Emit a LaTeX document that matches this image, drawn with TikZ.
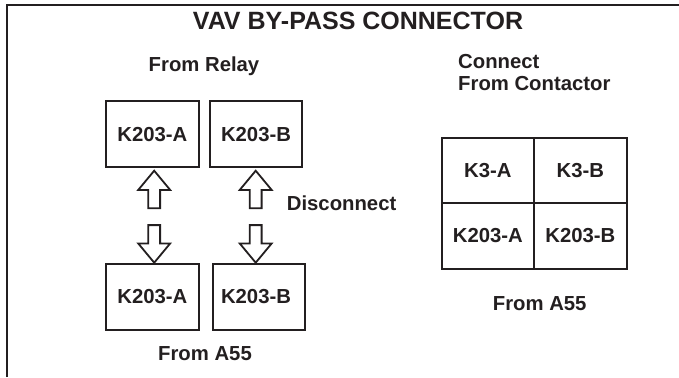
\documentclass[tikz,border=0pt]{standalone}
\usepackage{fontspec}
\setmainfont{Liberation Sans}
\definecolor{ink}{RGB}{35,31,32}
\newcommand\lblfont{\fontsize{20.3}{22.5}\selectfont\bfseries}
\newcommand\titlefont{\fontsize{25}{28}\selectfont\bfseries}
\tikzset{
  box/.style={draw=ink, line width=2pt, minimum width=92.5pt, minimum height=65.5pt,
    inner sep=0pt, font=\lblfont, text=ink},
  cell/.style={box, minimum width=92.5pt, minimum height=65.5pt},
  lbl/.style={font=\lblfont, text=ink, inner sep=0pt},
  blockarrow/.style={draw=ink, line width=1.8pt, fill=white, line join=miter},
  frameline/.style={draw=ink, line width=2.5pt},
  uparr/.pic={\draw[blockarrow] (0,0) -- (16,19.3) -- (5.9,19.3) -- (5.9,37.6)
     -- (-5.9,37.6) -- (-5.9,19.3) -- (-16,19.3) -- cycle;},
  downarr/.pic={\draw[blockarrow] (0,0) -- (16,-19.3) -- (5.9,-19.3) -- (5.9,-37.6)
     -- (-5.9,-37.6) -- (-5.9,-19.3) -- (-16,-19.3) -- cycle;}
}
\begin{document}
\begin{tikzpicture}[x=1pt,y=-1pt]
\useasboundingbox (0,0) rectangle (679,377);
% frame (top and left only)
\draw[frameline] (7,377) -- (7,5) -- (679,5);
% title
\node[lbl, font=\titlefont, anchor=base] (title) at (358,30) {VAV BY-PASS CONNECTOR};
% left group
\node[lbl, anchor=base] (relay) at (204,72) {From Relay};
\node[box] (ta) at (152.35,134.2) {K203-A};
\node[box] (tb) at (256,134.2) {K203-B};
\node[box, minimum width=92.7pt, minimum height=66pt] (ba) at (152.35,297) {\raisebox{-3.5pt}{K203-A}};
\node[box, minimum width=92pt, minimum height=66pt] (bb) at (259,297) {\hspace*{-6pt}\raisebox{-2pt}{K203-B}};
\pic at (154.2,170.7) {uparr};
\pic at (255.7,170.7) {uparr};
\pic at (154.2,262.7) {downarr};
\pic at (255.7,262.7) {downarr};
\node[lbl, anchor=base west] (disc) at (286.7,210.7) {Disconnect};
\node[lbl, anchor=base] (a55l) at (205,360.7) {From A55};
% right group
\node[lbl, anchor=base west] (conn) at (458,68.5) {Connect};
\node[lbl, anchor=base west] (contactor) at (458,91) {From Contactor};
\node[cell] (k3a) at (487.85,170.5) {K3-A};
\node[cell] (k3b) at (580.35,170.5) {K3-B};
\node[cell] (k203a) at (487.85,236) {K203-A};
\node[cell] (k203b) at (580.35,236) {K203-B};
\node[lbl, anchor=base] (a55r) at (539.7,310) {From A55};
\end{tikzpicture}
\end{document}
